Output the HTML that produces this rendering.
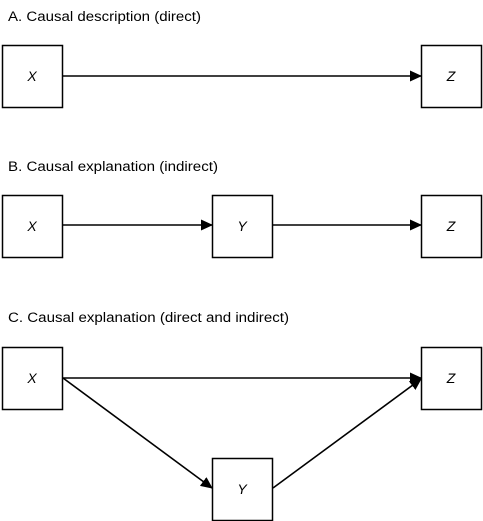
<!DOCTYPE html>
<html><head><meta charset="utf-8"><style>
html,body{margin:0;padding:0;background:#fff;}
svg{display:block;}
text{font-family:"Liberation Sans",sans-serif;fill:#000;}
.t{font-size:13.5px;}
.l{font-size:14px;font-style:italic;}
</style></head><body>
<svg width="483" height="521" viewBox="0 0 483 521" xmlns="http://www.w3.org/2000/svg">
<defs>
<marker id="a" markerWidth="12" markerHeight="12" refX="11" refY="5.5" orient="auto" markerUnits="userSpaceOnUse">
<path d="M0,0 L12,5.5 L0,11 z" fill="#000"/>
</marker>
</defs>
<g fill="#fff" stroke="#000" stroke-width="1.5">
<rect x="2.5" y="45.5" width="60" height="62"/>
<rect x="421.5" y="45.5" width="60" height="62"/>
<rect x="2.5" y="195.5" width="60" height="62"/>
<rect x="212.5" y="195.5" width="60" height="62"/>
<rect x="421.5" y="195.5" width="60" height="62"/>
<rect x="2.5" y="347.5" width="60" height="62"/>
<rect x="421.5" y="347.5" width="60" height="62"/>
<rect x="212.5" y="458.5" width="60" height="62"/>
</g>
<g stroke="#000" stroke-width="1.6" fill="none">
<line x1="63" y1="76" x2="421" y2="76" marker-end="url(#a)"/>
<line x1="63" y1="225" x2="212" y2="225" marker-end="url(#a)"/>
<line x1="273" y1="225" x2="421" y2="225" marker-end="url(#a)"/>
<line x1="63" y1="378" x2="421" y2="378" marker-end="url(#a)"/>
<line x1="63" y1="378" x2="212" y2="488" marker-end="url(#a)"/>
<line x1="273" y1="488" x2="421" y2="379" marker-end="url(#a)"/>
</g>
<text class="t" x="8" y="21" textLength="193" lengthAdjust="spacingAndGlyphs">A. Causal description (direct)</text>
<text class="t" x="8" y="171" textLength="210" lengthAdjust="spacingAndGlyphs">B. Causal explanation (indirect)</text>
<text class="t" x="8" y="322" textLength="281" lengthAdjust="spacingAndGlyphs">C. Causal explanation (direct and indirect)</text>
<g text-anchor="middle">
<text class="l" x="32" y="81">X</text>
<text class="l" x="451" y="81">Z</text>
<text class="l" x="32" y="231">X</text>
<text class="l" x="242" y="231">Y</text>
<text class="l" x="451" y="231">Z</text>
<text class="l" x="32" y="383">X</text>
<text class="l" x="451" y="383">Z</text>
<text class="l" x="242" y="494">Y</text>
</g>
</svg>
</body></html>
